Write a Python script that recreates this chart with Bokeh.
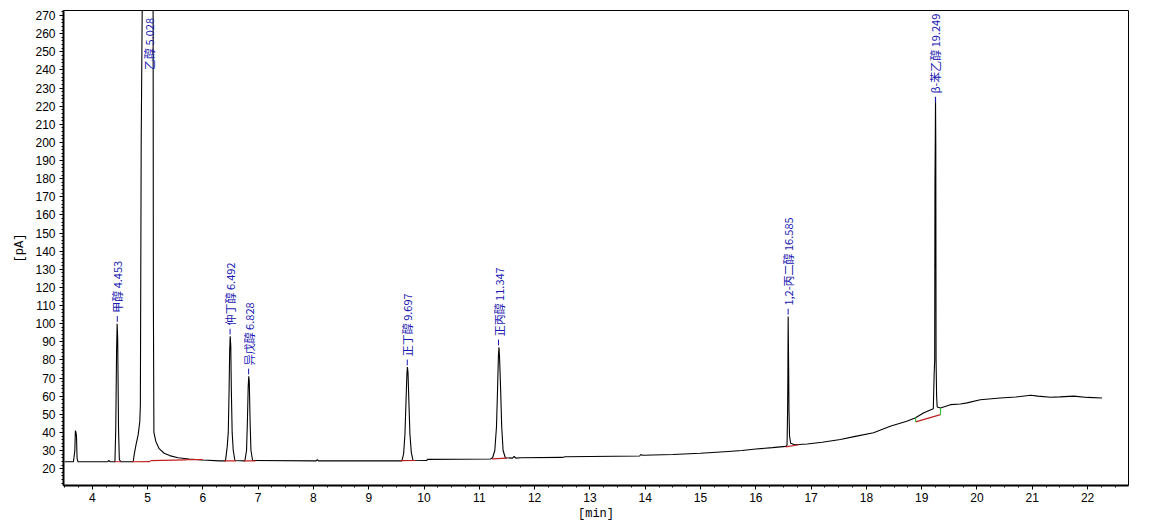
from bokeh.plotting import figure
from bokeh.models import FixedTicker, Range1d, ColumnDataSource
from bokeh.core.properties import value
from bokeh.embed import file_html
from bokeh.resources import INLINE

# ---- chromatogram trace (retention time [min], signal [pA]) ----
trace_t = [3.50, 3.66, 3.685, 3.695, 3.705, 3.715, 3.725, 3.74,
           4.28, 4.30, 4.32,
           4.41, 4.425, 4.44, 4.45, 4.46, 4.475, 4.49, 4.52,
           4.74, 4.76, 4.79, 4.83, 4.86, 4.87, 4.885, 4.91, 5.03, 5.10, 5.105, 5.115,
           5.15, 5.21, 5.30, 5.40, 5.55, 5.75, 6.00, 6.30,
           6.41, 6.44, 6.46, 6.475, 6.485, 6.495, 6.505, 6.515, 6.53, 6.55, 6.58,
           6.76, 6.79, 6.805, 6.82, 6.83, 6.84, 6.855, 6.87, 6.90,
           8.05, 8.07, 8.09,
           9.60, 9.63, 9.655, 9.675, 9.69, 9.70, 9.71, 9.725, 9.745, 9.77, 9.80,
           10.05, 10.06,
           11.20, 11.24, 11.28, 11.31, 11.33, 11.345, 11.355, 11.365, 11.385, 11.405, 11.43, 11.47,
           11.60, 11.63, 11.66, 11.75, 12.50, 12.55, 13.90, 13.92, 13.95,
           14.50, 15.00, 15.50, 15.75, 16.00, 16.30, 16.54,
           16.565, 16.575, 16.58, 16.585, 16.595, 16.60, 16.61, 16.63, 16.70,
           16.93, 17.20, 17.53, 17.80, 18.13, 18.43, 18.73, 18.88, 19.04, 19.21,
           19.225, 19.235, 19.24, 19.245, 19.25, 19.255, 19.26, 19.27, 19.28,
           19.34, 19.52, 19.70, 19.82, 20.06, 20.42, 20.70, 20.97, 21.10, 21.33,
           21.50, 21.75, 22.00, 22.26]
trace_v = [23.8, 23.8, 30, 41, 40, 38, 26, 23.8,
           23.8, 24.6, 23.8,
           23.8, 42, 85, 100, 92, 42, 25, 23.8,
           23.8, 28, 33, 38.6, 46, 55, 200, 300, 900, 300, 116, 40,
           35, 31, 28.5, 27.2, 26, 25.3, 24.8, 24.3,
           24.3, 32, 40, 64, 85, 93, 88, 64, 40, 30, 24.5,
           24.3, 30, 45, 65, 71, 68, 45, 30, 24.5,
           24.3, 25, 24.3,
           24.3, 28, 39, 58, 72, 76, 73, 58, 39, 29, 24.6,
           24.5, 25.1,
           25.3, 26, 30, 43, 64, 82, 87, 82, 64, 43, 30, 26,
           25.8, 26.7, 25.8, 26.0, 26.2, 26.6, 27.0, 27.8, 27.4,
           27.8, 28.5, 29.5, 30.0, 30.8, 31.6, 32.3,
           33, 52, 72, 104, 72, 52, 38, 34, 33.2,
           33.6, 34.6, 36.1, 37.8, 39.8, 43.4, 46.2, 48, 50.8, 53,
           72, 80, 177, 198, 225, 198, 80, 60, 54,
           53.5, 55.3, 55.7, 56.3, 58, 59, 59.5, 60.5, 60, 59.4,
           59.6, 60, 59.3, 59]

# ---- peak annotations ----
peak_names = ["甲醇", "乙醇", "仲丁醇", "异戊醇", "正丁醇", "正丙醇", "1,2-丙二醇", "β-苯乙醇"]
peak_rt = [4.453, 5.028, 6.492, 6.828, 9.697, 11.347, 16.585, 19.249]
label_base = [106, 240, 99, 77, 82, 93, 110, 227]   # pA where each label begins

# ---- integration baselines (red) and marks (green) ----
base_t0 = [4.40, 4.71, 5.05, 5.70, 6.39, 6.74, 9.58, 11.23, 16.54, 18.89]
base_v0 = [23.8, 23.8, 24.4, 25.0, 24.3, 24.3, 24.4, 25.4, 32.0, 45.8]
base_t1 = [4.52, 5.05, 5.70, 6.00, 6.60, 6.95, 9.84, 11.50, 16.78, 19.34]
base_v1 = [23.8, 23.9, 24.8, 25.0, 24.3, 24.3, 24.5, 25.8, 33.2, 49.8]
mark_t = [18.89, 19.34]
mark_v0 = [45.8, 49.8]
mark_v1 = [48.2, 53.5]

x_ticks = list(range(4, 23))
y_ticks = list(range(20, 280, 10))

p = figure(width=1142, height=523, output_backend="svg", toolbar_location=None,
           x_range=Range1d(3.48, 22.74), y_range=Range1d(10.7, 272.8),
           min_border_left=63, min_border_top=10, min_border_right=14, min_border_bottom=35)
p.background_fill_color = "white"
p.border_fill_color = "white"
p.outline_line_color = "black"
p.outline_line_width = 1
p.grid.visible = False

p.line(trace_t, trace_v, line_color="black", line_width=1.1)

p.segment(x0=base_t0, y0=base_v0, x1=base_t1, y1=base_v1, line_color="#c02020", line_width=1.2)
p.segment(x0=mark_t, y0=mark_v0, x1=mark_t, y1=mark_v1, line_color="#30c030", line_width=1.2)

lab = ColumnDataSource(dict(
    x=peak_rt, y=label_base,
    text=[f"{n} {rt:.3f}" for n, rt in zip(peak_names, peak_rt)],
))
p.text(x="x", y="y", text="text", source=lab, angle=1.5708,
       text_align="left", text_baseline="middle",
       text_font=value("Noto Sans CJK SC"), text_font_size="11px", text_color="#1818b0")

dash_t = [rt for i, rt in enumerate(peak_rt) if i != 1]
dash_y = [b for i, b in enumerate(label_base) if i != 1]
p.segment(x0=dash_t, y0=[b - 5 for b in dash_y], x1=dash_t, y1=[b - 1.8 for b in dash_y],
          line_color="#1818b0", line_width=1)

xa = p.xaxis[0]
xa.ticker = FixedTicker(ticks=x_ticks, minor_ticks=[3.5 + 0.25 * i for i in range(77)])
ya = p.yaxis[0]
ya.ticker = FixedTicker(ticks=y_ticks, minor_ticks=list(range(12, 274, 2)))

for ax in (xa, ya):
    ax.axis_line_width = 2
    ax.axis_line_color = "black"
    ax.major_tick_in = 0
    ax.major_tick_out = 4
    ax.minor_tick_in = 0
    ax.minor_tick_out = 2
    ax.major_tick_line_color = "black"
    ax.minor_tick_line_color = "black"
    ax.major_label_text_font = "Liberation Sans"
    ax.major_label_text_font_size = "12px"
    ax.major_label_text_color = "black"
    ax.axis_label_text_font = "Liberation Mono"
    ax.axis_label_text_font_size = "12px"
    ax.axis_label_text_font_style = "normal"
    ax.axis_label_text_color = "black"

xa.axis_label = "[min]"
xa.major_label_standoff = 3
xa.axis_label_standoff = 2
ya.axis_label = "[pA]"
ya.major_label_standoff = 4
ya.axis_label_standoff = 5

open("out.html", "w").write(file_html(p, INLINE))
